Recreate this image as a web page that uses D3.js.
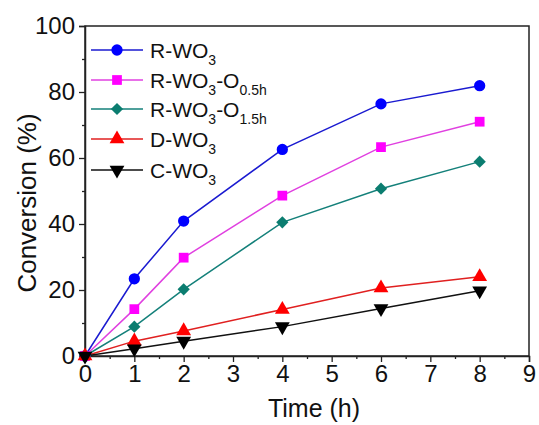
<!DOCTYPE html>
<html><head><meta charset="utf-8">
<script src="https://cdn.jsdelivr.net/npm/d3@7"></script>
<style>body{margin:0;background:#fff}svg{display:block}</style>
</head><body>
<svg id="c" width="539" height="425"></svg>
<script>
const times = [0, 1, 2, 4, 6, 8];
const seriesNames = ["R-WO3", "R-WO3-O0.5h", "R-WO3-O1.5h", "D-WO3", "C-WO3"];
const rWO3 = [0, 23.4, 40.9, 62.6, 76.4, 81.9];
const rWO3O05 = [0, 14.2, 29.8, 48.6, 63.3, 71.0];
const rWO3O15 = [0, 8.9, 20.2, 40.5, 50.7, 58.9];
const dWO3 = [0, 4.5, 7.6, 14.1, 20.6, 24.0];
const cWO3 = [0, 2.2, 4.5, 8.9, 14.4, 19.8];
const xTicks = [0, 1, 2, 3, 4, 5, 6, 7, 8, 9];
const yTicks = [0, 20, 40, 60, 80, 100];

const series = [
  {name: seriesNames[0], base: "R-WO", sub1: "3", mid: "", sub2: "", values: rWO3, line: "#1a1ad0", fill: "#0000ff", sym: d3.symbolCircle, size: 100, rot: 0},
  {name: seriesNames[1], base: "R-WO", sub1: "3", mid: "-O", sub2: "0.5h", values: rWO3O05, line: "#e040e0", fill: "#ff00ff", sym: d3.symbolSquare, size: 95, rot: 0},
  {name: seriesNames[2], base: "R-WO", sub1: "3", mid: "-O", sub2: "1.5h", values: rWO3O15, line: "#14807a", fill: "#0b7d70", sym: d3.symbolSquare, size: 75, rot: 45},
  {name: seriesNames[3], base: "D-WO", sub1: "3", mid: "", sub2: "", values: dWO3, line: "#e02020", fill: "#ff0000", sym: d3.symbolTriangle, size: 95, rot: 0},
  {name: seriesNames[4], base: "C-WO", sub1: "3", mid: "", sub2: "", values: cWO3, line: "#111", fill: "#000", sym: d3.symbolTriangle, size: 95, rot: 180}
];

const svg = d3.select("#c");
const L = 85, R = 529, T = 26, B = 356;
const x = d3.scaleLinear().domain([0, 9]).range([L, R]);
const y = d3.scaleLinear().domain([0, 100]).range([B, T]);
const font = "Arial, 'Liberation Sans', sans-serif";

svg.append("rect").attr("x", L).attr("y", T).attr("width", R - L).attr("height", B - T)
  .attr("fill", "none").attr("stroke", "#222").attr("stroke-width", 1.5);

svg.append("g").attr("transform", `translate(0,${B})`)
  .call(d3.axisBottom(x).tickValues(xTicks).tickSize(6).tickPadding(3).tickFormat(d3.format("d")));
svg.append("g").attr("transform", `translate(0,${B})`)
  .call(d3.axisBottom(x).tickValues(d3.range(0.5, 9, 1)).tickSize(3).tickFormat(""))
  .call(g => g.select(".domain").remove());
svg.append("g").attr("transform", `translate(${L},0)`)
  .call(d3.axisLeft(y).tickValues(yTicks).tickSize(6).tickPadding(4).tickFormat(d3.format("d")));
svg.append("g").attr("transform", `translate(${L},0)`)
  .call(d3.axisLeft(y).tickValues(d3.range(10, 100, 20)).tickSize(3).tickFormat(""))
  .call(g => g.select(".domain").remove());

svg.selectAll(".tick line").attr("stroke", "#222").attr("stroke-width", 1.3);
svg.selectAll(".domain").attr("stroke", "#222").attr("stroke-width", 1.5);
svg.selectAll(".tick text").attr("font-family", font).attr("font-size", 24).attr("fill", "#111");

svg.append("text").attr("x", 314).attr("y", 417).attr("text-anchor", "middle")
  .attr("font-family", font).attr("font-size", 25).attr("fill", "#111").text("Time (h)");
svg.append("text").attr("transform", `translate(36,203) rotate(-90)`).attr("text-anchor", "middle")
  .attr("font-family", font).attr("font-size", 26).attr("fill", "#111").text("Conversion (%)");

const lineGen = d3.line().x((d, i) => x(times[i])).y(d => y(d));
series.forEach(s => {
  svg.append("path").datum(s.values).attr("d", lineGen).attr("fill", "none")
    .attr("stroke", s.line).attr("stroke-width", 1.5);
});
series.forEach(s => {
  svg.append("g").selectAll("path").data(s.values).join("path")
    .attr("d", d3.symbol().type(s.sym).size(s.size))
    .attr("transform", (d, i) => `translate(${x(times[i])},${y(d)}) rotate(${s.rot})`)
    .attr("fill", s.fill);
});

const lg = svg.append("g");
const rowY = [50, 80, 109, 139, 170];
series.forEach((s, k) => {
  const yy = rowY[k];
  lg.append("line").attr("x1", 91).attr("x2", 143).attr("y1", yy).attr("y2", yy)
    .attr("stroke", s.line).attr("stroke-width", 1.5);
  lg.append("path").attr("d", d3.symbol().type(s.sym).size(s.size))
    .attr("transform", `translate(117,${yy}) rotate(${s.rot})`).attr("fill", s.fill);
  const t = lg.append("text").attr("x", 150).attr("y", yy + 8)
    .attr("font-family", font).attr("font-size", 21).attr("fill", "#111");
  t.append("tspan").text(s.base);
  t.append("tspan").attr("font-size", 14).attr("dy", 7).text(s.sub1);
  if (s.mid) {
    t.append("tspan").attr("dy", -7).text(s.mid);
    t.append("tspan").attr("font-size", 14).attr("dy", 7).text(s.sub2);
  }
});
</script>
</body></html>
